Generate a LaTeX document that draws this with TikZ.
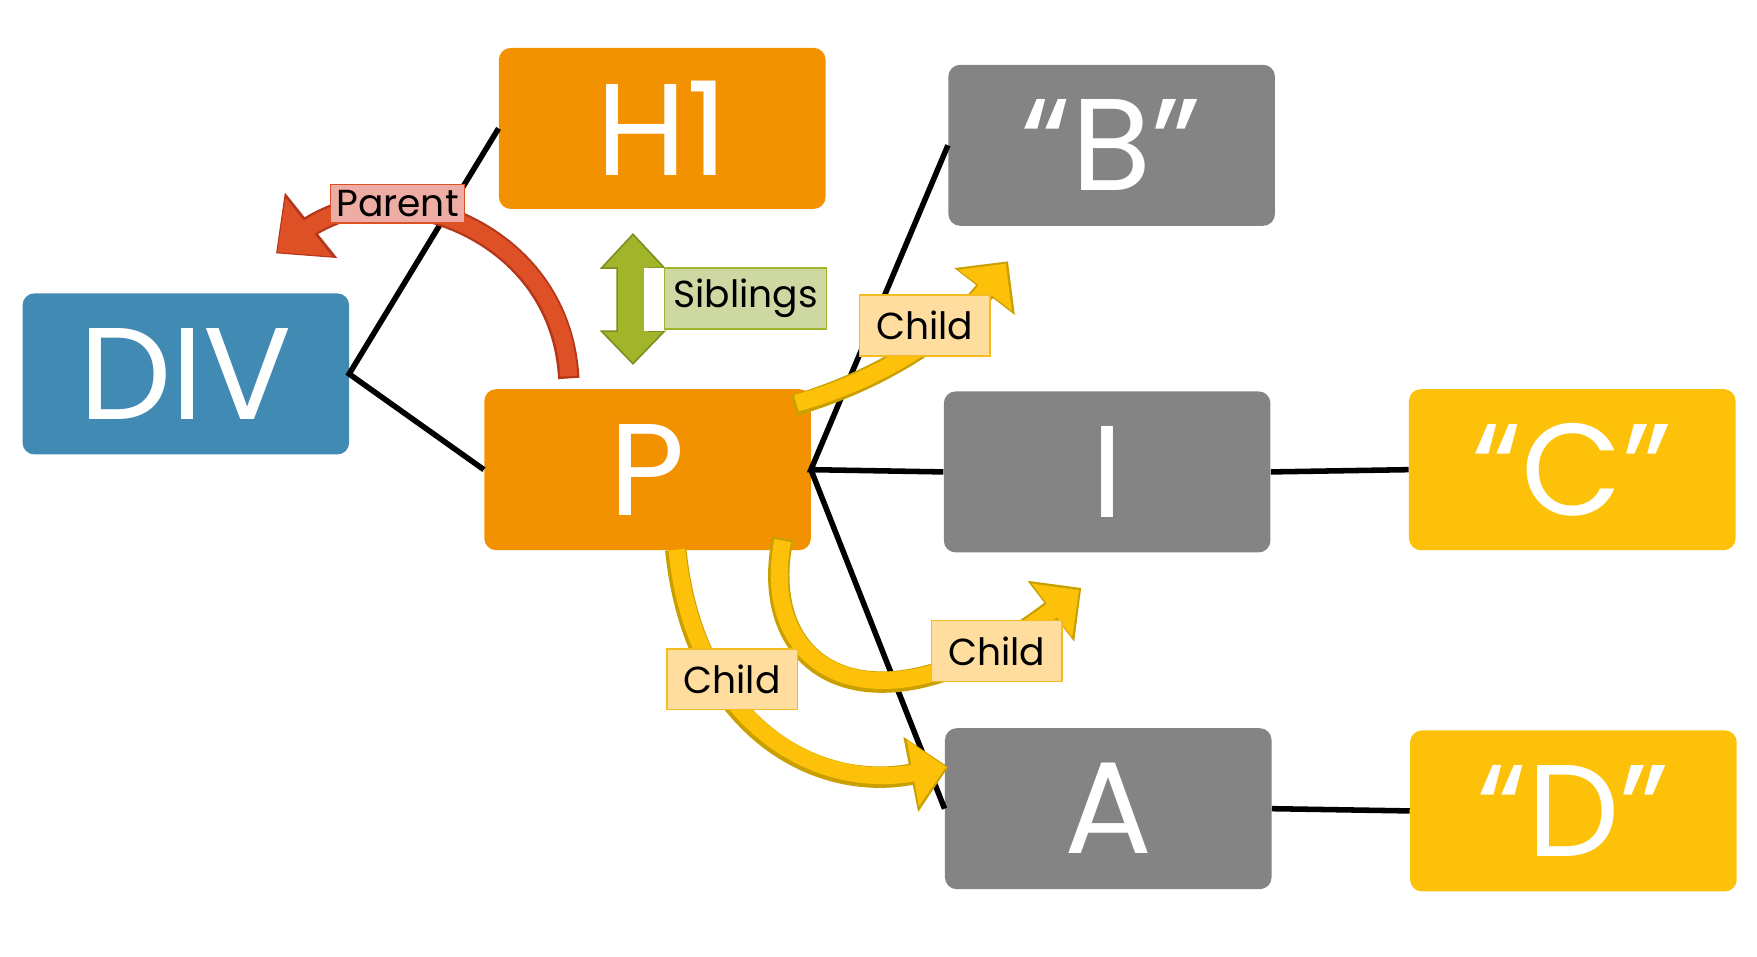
\documentclass[tikz,border=0pt]{standalone}
\usepackage{fontspec}
\setmainfont{Poppins}
\usetikzlibrary{arrows.meta}
\definecolor{org}{HTML}{F39200}
\definecolor{blu}{HTML}{418AB3}
\definecolor{gry}{HTML}{848484}
\definecolor{yel}{HTML}{FCC108}
\definecolor{yelo}{HTML}{C9A000}
\definecolor{redc}{HTML}{DE5127}
\definecolor{redo}{HTML}{B5371A}
\definecolor{grn}{HTML}{A2B42A}
\definecolor{grno}{HTML}{7A8F1E}
\definecolor{FEDD9F}{HTML}{FEDD9F}
\definecolor{F5BC20}{HTML}{F5BC20}
\definecolor{EDADA5}{HTML}{EDADA5}
\definecolor{CDD8A3}{HTML}{CDD8A3}
\tikzset{
 box/.style={rounded corners=6pt,minimum width=290*0.02cm,minimum height=143*0.02cm,inner sep=0pt,text=white,font=\fontsize{66}{66}\selectfont},
 conn/.style={line width=2.8pt,black},
 lbl/.style={draw,line width=0.8pt,inner sep=3pt,font=\fontsize{19}{19}\selectfont,text=black},
 childlbl/.style={lbl,fill=FEDD9F,draw=F5BC20,minimum width=116*0.02cm,minimum height=54*0.02cm},
 yout/.style={line width=19*0.02cm,yelo,-{Triangle[length=34*0.02cm,width=66*0.02cm]}},
 yin/.style={line width=15*0.02cm,yel,-{Triangle[length=30*0.02cm,width=58*0.02cm]}},
}
\begin{document}
\begin{tikzpicture}[x=0.02cm,y=-0.02cm]
\useasboundingbox (0,0) rectangle (1560,849);
\node[box,fill=org] (h1) at (588,114) {H1};
\node[box,fill=blu] (div) at (165,332) {DIV};
\node[box,fill=org] (p) at (575,417) {P};
\node[box,fill=gry] (b) at (987,129) {“B”};
\node[box,fill=gry] (i) at (983,419) {I};
\node[box,fill=gry] (a) at (984,718) {A};
\node[box,fill=yel] (c) at (1396,417) {“C”};
\node[box,fill=yel] (d) at (1397,720) {“D”};
% connectors
\coordinate (dv) at (310,332);
\coordinate (pr) at (720,417);
\draw[conn] (h1.west) -- (dv) -- (p.west);
\draw[conn] (b.west) -- (pr) -- (i.west);
\draw[conn] (pr) -- (a.west);
\draw[conn] (i.east) -- (c.west);
\draw[conn] (a.east) -- (d.west);
% parent arrow
\draw[line width=19*0.02cm,redo,-{Triangle[length=40*0.02cm,width=72*0.02cm]}] (505,336) .. controls (500,240) and (420,185) .. (340,182) .. controls (300,182) and (270,205) .. (245,225);
\draw[line width=15*0.02cm,redc,-{Triangle[length=36*0.02cm,width=64*0.02cm]}] (505,334) .. controls (500,240) and (420,185) .. (340,182) .. controls (300,182) and (270,205) .. (246,224);
\node[lbl,fill=EDADA5,draw=redc] (par) at (353,181) {Parent};
% siblings arrow
\draw[fill=grn,draw=grno,line width=0.8pt] (562,208) -- (590,238) -- (576,238) -- (576,294) -- (590,294) -- (562,323) -- (534,294) -- (548,294) -- (548,238) -- (534,238) -- cycle;
\fill[white] (572,238) rectangle (590,294);
\node[lbl,fill=CDD8A3,draw=grn,minimum height=54*0.02cm,minimum width=144*0.02cm] (sib) at (662,265) {Siblings};
% child arrows
\draw[yout] (705,360) .. controls (790,335) and (850,290) .. (895,232);
\draw[yin] (707,358) .. controls (790,335) and (850,290) .. (893,234);
\node[childlbl] (ch1) at (821,289) {Child};
\draw[yout] (695,478) .. controls (670,600) and (780,660) .. (960,522);
\draw[yin] (695,480) .. controls (672,598) and (780,658) .. (958,524);
\node[childlbl] (ch2) at (885,578) {Child};
\draw[yout] (600,488) .. controls (615,640) and (720,705) .. (842,681);
\draw[yin] (601,488) .. controls (616,638) and (720,703) .. (840,681);
\node[childlbl] (ch3) at (650,603) {Child};
\end{tikzpicture}
\end{document}
